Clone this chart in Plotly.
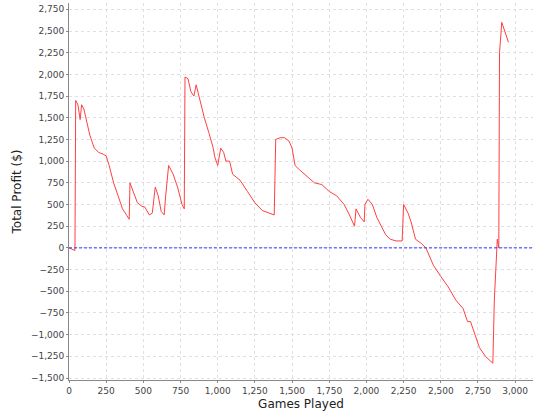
import plotly.graph_objs as go

games = [0, 20, 40, 45, 60, 75, 85, 100, 120, 140, 170, 200, 230, 250, 270, 300, 330, 360, 390, 405,
         410, 430, 460, 490, 510, 540, 560, 580, 600, 620, 640, 650, 670, 700, 730, 760, 775,
         780, 800, 820, 840, 855, 880, 910, 940, 970, 980, 1000, 1020, 1040, 1055, 1080, 1100,
         1150, 1200, 1250, 1300, 1350, 1380, 1390, 1420, 1450, 1480, 1500, 1520, 1550, 1600,
         1650, 1700, 1750, 1800, 1850, 1880, 1910, 1920, 1930, 1960, 1985, 1990, 2010, 2040,
         2070, 2100, 2130, 2160, 2200, 2240, 2250, 2280, 2300, 2330, 2370, 2400, 2450, 2500,
         2550, 2600, 2650, 2680, 2700, 2730, 2760, 2800, 2830, 2850, 2860, 2880, 2890, 2895,
         2910, 2930, 2955]
profit = [0, -20, -30, 1700, 1650, 1480, 1650, 1600, 1450, 1300, 1150, 1100, 1080, 1060, 950,
          750, 600, 450, 370, 330, 750, 650, 520, 480, 470, 380, 400, 700, 600, 420, 380, 600,
          950, 850, 700, 500, 450, 1970, 1950, 1800, 1750, 1880, 1700, 1500, 1330, 1150, 1050,
          950, 1150, 1100, 1000, 1000, 850, 780, 650, 520, 430, 400, 380, 1250, 1270, 1270, 1230,
          1150, 950, 900, 820, 750, 730, 650, 600, 500, 400, 300, 250, 450, 350, 300, 500, 560,
          500, 350, 250, 150, 100, 80, 80, 500, 400, 300, 100, 50, 0, -200, -330, -450, -600,
          -700, -850, -850, -1000, -1150, -1250, -1300, -1330, -600, 100, 0, 2250, 2600, 2500,
          2370]

fig = go.Figure()
fig.add_trace(go.Scatter(x=games, y=profit, mode="lines", line=dict(color="#ff4040", width=1)))
fig.add_hline(y=0, line=dict(color="#3333ff", width=1, dash="3px,2px"))

grid = dict(showgrid=True, gridcolor="#e0e0e0", griddash="3px,3px", gridwidth=1, zeroline=False,
            showline=True, linecolor="#888888", ticks="outside", ticklen=2, tickcolor="#888888",
            tickformat=",d", automargin=False,
            tickfont=dict(family="DejaVu Sans", size=9, color="#444444"),
            title_font=dict(family="DejaVu Sans", size=12, color="#222222"))
fig.update_xaxes(grid, title_text="Games Played", range=[0, 3120], dtick=250, title_standoff=4)
fig.update_yaxes(grid, title_text="Total Profit ($)", range=[-1523, 2823], dtick=250, title_standoff=6)
fig.update_layout(width=540, height=420, showlegend=False, plot_bgcolor="white", paper_bgcolor="white",
                  margin=dict(l=69, r=7, t=3, b=40))
# page body has a default 8px margin, drop it so the chart sits at the window edge
fig.write_html("out.html", config={"displayModeBar": False},
               post_script="document.body.style.margin='0';")
